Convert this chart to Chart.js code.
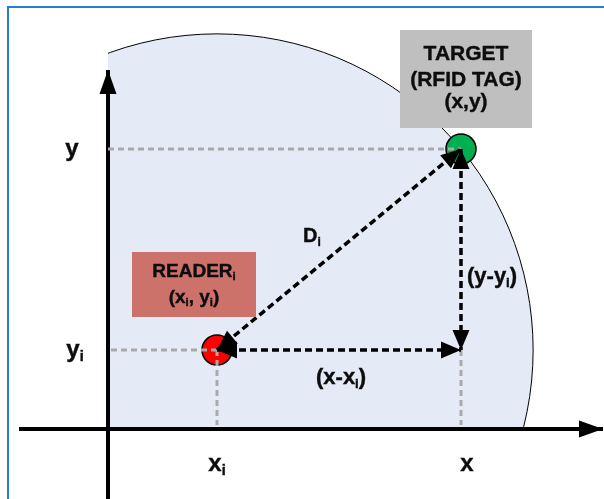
<!DOCTYPE html>
<html><head><meta charset="utf-8">
<script src="https://cdn.jsdelivr.net/npm/chart.js@4/dist/chart.umd.min.js"></script>
<style>
html,body{margin:0;padding:0;background:#fff;}
#wrap{position:relative;width:604px;height:499px;}
#frame{position:absolute;left:7px;top:6px;right:0;bottom:0;border-left:2px solid #2a7bd4;border-top:2px solid #2a7bd4;pointer-events:none;}
</style></head><body>
<div id="wrap"><canvas id="c"></canvas><div id="frame"></div></div>
<script>
// ---- data (diagram units, origin = axes crossing) ----
const pointNames = ['READER', 'TARGET'];
const pointX = [109, 353];
const pointY = [79, 280];
const xAxisSpan = [-89, 495];
const yAxisSpan = [-70, 359];
const viewX = [-108, 496];
const viewY = [-70, 429];
// axis labels: [text, subscript]
const xTickLabels = [['x', 'i'], ['x', '']];
const yTickLabels = [['y', 'i'], ['y', '']];

// ---- layout / styles ----
const FONT = '"Liberation Sans", Arial, sans-serif';
const pointColors = ['#FF0000', '#00B050'];
const regionFill = '#E5EBF6';
const guideColor = '#A9A9A9';
const boxes = [
  {x0: 24, x1: 148, y0: 177, y1: 112, fill: '#CD726A', size: 19,
   lines: [[['READER', 0], ['i', 1]], [['(x', 0], ['i', 1], [', y', 0], ['i', 1], [')', 0]]],
   base: [152, 126]},
  {x0: 292, x1: 424, y0: 399, y1: 301, fill: '#BFBFBF', size: 21,
   lines: [[['TARGET', 0]], [['(RFID TAG)', 0]], [['(x,y)', 0]]],
   base: [369, 343, 321]}
];
const freeLabels = [
  {parts: [['D', 0], ['i', 1]], x: 195, y: 187, size: 20},
  {parts: [['(x-x', 0], ['i', 1], [')', 0]], x: 208, y: 45, size: 22},
  {parts: [['(y-y', 0], ['i', 1], [')', 0]], x: 359, y: 146, size: 22}
];

function pts(a) { return a.map(p => ({x: p[0], y: p[1]})); }
const R = [pointX[0], pointY[0]], T = [pointX[1], pointY[1]];

const datasets = [
  // black dashed arrows
  {data: pts([R, T]), borderColor: '#000', borderWidth: 3.5, borderDash: [7, 4], order: 1, arrows: [1, 1]},
  {data: pts([R, [T[0], R[1]]]), borderColor: '#000', borderWidth: 3.5, borderDash: [7, 4], order: 1, arrows: [1, 1]},
  {data: pts([T, [T[0], R[1]]]), borderColor: '#000', borderWidth: 3.5, borderDash: [7, 4], order: 1, arrows: [1, 1]},
  // gray guides
  {data: pts([[0, T[1]], T]), borderColor: guideColor, borderWidth: 3, borderDash: [6, 4], order: 2},
  {data: pts([[3, R[1]], R]), borderColor: guideColor, borderWidth: 3, borderDash: [6, 4], order: 2},
  {data: pts([R, [R[0], 4]]), borderColor: guideColor, borderWidth: 3, borderDash: [6, 4], order: 2},
  {data: pts([[T[0], R[1]], [T[0], 4]]), borderColor: guideColor, borderWidth: 3, borderDash: [6, 4], order: 2},
  // reader / target points
  {data: pts([R, T]), showLine: false, pointRadius: 15, pointBackgroundColor: pointColors,
   pointBorderColor: '#000', pointBorderWidth: 1.5, order: 3},
  // axes
  {data: pts([[xAxisSpan[0], 0], [xAxisSpan[1], 0]]), borderColor: '#000', borderWidth: 4, order: 4, arrows: [0, 2]},
  {data: pts([[0, yAxisSpan[0]], [0, yAxisSpan[1]]]), borderColor: '#000', borderWidth: 4, order: 4, arrows: [0, 2]}
].map(d => Object.assign({showLine: true, pointRadius: 0, fill: false, tension: 0, clip: false}, d));

function arrowHead(ctx, fx, fy, tx, ty, len, hw) {
  const a = Math.atan2(ty - fy, tx - fx);
  ctx.save();
  ctx.translate(tx, ty); ctx.rotate(a);
  ctx.beginPath(); ctx.moveTo(0, 0); ctx.lineTo(-len, hw); ctx.lineTo(-len, -hw); ctx.closePath();
  ctx.fillStyle = '#000'; ctx.fill();
  ctx.restore();
}
function rich(ctx, parts, x, y, size, align) {
  const sub = size * 0.6;
  let w = 0;
  parts.forEach(p => { ctx.font = 'bold ' + (p[1] ? sub : size) + 'px ' + FONT; w += ctx.measureText(p[0]).width; });
  let cx = align === 'center' ? x - w / 2 : x;
  ctx.textAlign = 'left'; ctx.textBaseline = 'alphabetic'; ctx.fillStyle = '#0d0d0d';
  ctx.strokeStyle = '#0d0d0d'; ctx.lineWidth = 0.4;
  parts.forEach(p => {
    ctx.font = 'bold ' + (p[1] ? sub : size) + 'px ' + FONT;
    const yy = y + (p[1] ? size * 0.18 : 0);
    ctx.fillText(p[0], cx, yy);
    ctx.strokeText(p[0], cx, yy);
    cx += ctx.measureText(p[0]).width;
  });
}

const diagram = {
  id: 'diagram',
  beforeDatasetsDraw(chart) {
    const ctx = chart.ctx, xs = chart.scales.x, ys = chart.scales.y;
    const cx = xs.getPixelForValue(R[0]), cy = ys.getPixelForValue(R[1]);
    const tx = xs.getPixelForValue(T[0]), ty = ys.getPixelForValue(T[1]);
    const r = Math.hypot(tx - cx, ty - cy);
    const ox = xs.getPixelForValue(0), oy = ys.getPixelForValue(0);
    ctx.save();
    ctx.beginPath(); ctx.rect(ox, 0, chart.width, oy); ctx.clip();
    ctx.beginPath(); ctx.arc(cx, cy, r, 0, Math.PI * 2);
    ctx.fillStyle = regionFill; ctx.fill();
    ctx.lineWidth = 1; ctx.strokeStyle = '#000'; ctx.stroke();
    ctx.restore();
  },
  afterDatasetsDraw(chart) {
    const ctx = chart.ctx, xs = chart.scales.x, ys = chart.scales.y;
    const px = v => xs.getPixelForValue(v), py = v => ys.getPixelForValue(v);
    // arrowheads
    chart.data.datasets.forEach(d => {
      if (!d.arrows) return;
      const a = d.data[0], b = d.data[d.data.length - 1];
      const ax = px(a.x), ay = py(a.y), bx = px(b.x), by = py(b.y);
      const big = d.arrows[1] === 2;
      const len = big ? 24 : 20, hw = big ? 8.5 : 8.5;
      if (d.arrows[0]) arrowHead(ctx, bx, by, ax, ay, len, hw);
      if (d.arrows[1]) arrowHead(ctx, ax, ay, bx, by, len, hw);
    });
    // boxes
    boxes.forEach(b => {
      const x0 = px(b.x0), x1 = px(b.x1), y0 = py(b.y0), y1 = py(b.y1);
      ctx.fillStyle = b.fill; ctx.fillRect(x0, y0, x1 - x0, y1 - y0);
      b.lines.forEach((ln, i) => rich(ctx, ln, (x0 + x1) / 2, py(b.base[i]), b.size, 'center'));
    });
    freeLabels.forEach(l => rich(ctx, l.parts, px(l.x), py(l.y), l.size, 'left'));
    // axis labels
    const xv = [R[0], T[0]], yv = [R[1], T[1]];
    xTickLabels.forEach((t, i) => rich(ctx, [[t[0], 0], [t[1], 1]], px(xv[i]) + (t[1] ? 0 : 6), py(-42), 24, 'center'));
    yTickLabels.forEach((t, i) => rich(ctx, [[t[0], 0], [t[1], 1]], px(-36) + (t[1] ? 3 : 0), py(yv[i]) + 7, 24, 'center'));
  }
};

new Chart(document.getElementById('c'), {
  type: 'scatter',
  data: {datasets},
  options: {
    responsive: true, maintainAspectRatio: false, animation: false,
    layout: {padding: 0, autoPadding: false},
    events: [],
    plugins: {legend: {display: false}, tooltip: {enabled: false}},
    scales: {
      x: {type: 'linear', min: viewX[0], max: viewX[1], display: false},
      y: {type: 'linear', min: viewY[0], max: viewY[1], display: false}
    }
  },
  plugins: [diagram]
});
</script>
</body></html>
